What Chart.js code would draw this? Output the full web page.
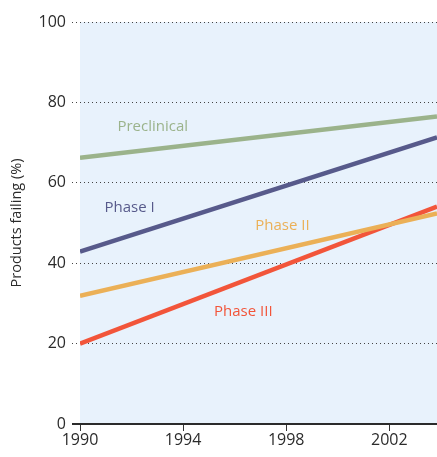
<!DOCTYPE html>
<html>
<head>
<meta charset="utf-8">
<script src="https://cdn.jsdelivr.net/npm/chart.js@4"></script>
<style>
  html, body { margin: 0; padding: 0; background: #fff; }
  #wrap { width: 437px; height: 457px; }
</style>
</head>
<body>
<div id="wrap"><canvas id="chart"></canvas></div>
<script>
// data
const phases = ['Preclinical', 'Phase I', 'Phase II', 'Phase III'];
const years = [1990, 2003.85];
const preclinical = [66.2, 76.5];
const phase1 = [42.9, 71.3];
const phase2 = [31.9, 52.4];
const phase3 = [20.0, 54.1];
const xTicks = [1990, 1994, 1998, 2002];
const yTicks = [0, 20, 40, 60, 80, 100];
// where the in-plot labels sit (year, %)
const labelYears = [1991.45, 1990.95, 1996.8, 1995.2];
const labelValues = [74.0, 53.9, 49.4, 27.9];

const colors = ['#9bb38b', '#575a8b', '#ebb057', '#f2553a'];
const series = [preclinical, phase1, phase2, phase3];
const font = "'Open Sans', sans-serif";

const plotBg = {
  id: 'plotBg',
  beforeDraw(chart) {
    const a = chart.chartArea, c = chart.ctx;
    c.save();
    c.fillStyle = '#e8f2fc';
    c.fillRect(a.left, a.top, a.right - a.left, a.bottom - a.top);
    c.restore();
  },
  afterDraw(chart) {
    const c = chart.ctx, x = chart.scales.x, y = chart.scales.y;
    c.save();
    // solid zero axis, running a little left of the plot
    c.strokeStyle = '#2b2b2b';
    c.lineWidth = 2;
    c.beginPath();
    c.moveTo(chart.chartArea.left - 8, y.getPixelForValue(0));
    c.lineTo(chart.chartArea.right, y.getPixelForValue(0));
    c.stroke();
    c.font = '15px ' + font;
    c.textBaseline = 'middle';
    c.textAlign = 'left';
    phases.forEach((p, i) => {
      c.fillStyle = colors[i];
      c.fillText(p, x.getPixelForValue(labelYears[i]), y.getPixelForValue(labelValues[i]));
    });
    c.restore();
  }
};

new Chart(document.getElementById('chart'), {
  type: 'line',
  data: {
    datasets: phases.map((p, i) => ({
      label: p,
      data: years.map((yr, j) => ({ x: yr, y: series[i][j] })),
      borderColor: colors[i],
      borderWidth: 4.5,
      pointRadius: 0,
      fill: false,
      tension: 0
    }))
  },
  options: {
    responsive: true,
    maintainAspectRatio: false,
    animation: false,
    layout: { padding: { top: 22, right: 0, left: 0, bottom: 0 } },
    plugins: { legend: { display: false }, tooltip: { enabled: false } },
    scales: {
      x: {
        type: 'linear',
        min: 1990,
        max: 2003.85,
        afterBuildTicks: s => { s.ticks = xTicks.map(v => ({ value: v })); },
        afterFit: s => { s.height = 33; },
        border: { display: false },
        grid: { drawOnChartArea: false, drawTicks: true, tickLength: 7, color: '#333', lineWidth: 1 },
        ticks: {
          color: '#2b2b2b',
          font: { family: font, size: 16 },
          padding: 0,
          maxRotation: 0,
          callback: v => String(v)
        }
      },
      y: {
        min: 0,
        max: 100,
        afterBuildTicks: s => { s.ticks = yTicks.map(v => ({ value: v })); },
        afterFit: s => { s.width = 80; },
        border: { display: false, dash: [1, 3] },
        grid: {
          color: '#444',
          lineWidth: 1,
          tickBorderDash: [1, 3],
          tickLength: 8
        },
        ticks: {
          color: '#2b2b2b',
          font: { family: font, size: 16 },
          padding: 6
        },
        title: {
          display: true,
          text: 'Products failing (%)',
          color: '#2b2b2b',
          font: { family: font, size: 14.5 },
          padding: { top: 8, bottom: 0 }
        }
      }
    }
  },
  plugins: [plotBg]
});
</script>
</body>
</html>
